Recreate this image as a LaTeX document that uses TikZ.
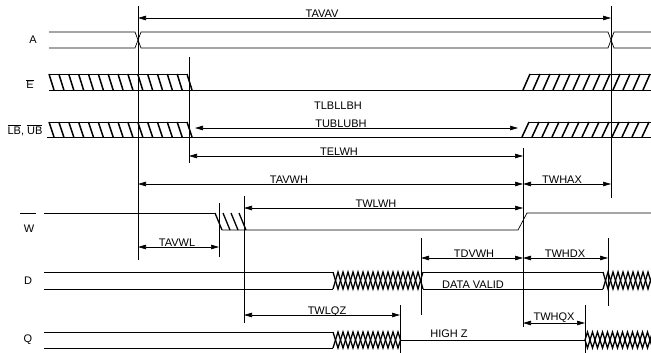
\documentclass[tikz,border=0pt]{standalone}
\usepackage{fontspec}
\setmainfont{Liberation Sans}
\usetikzlibrary{arrows.meta}
\newcommand{\barsig}[1]{$\overline{\mbox{#1}}$}

\begin{document}
\begin{tikzpicture}[x=1pt, y=-1pt, line width=0.7pt,
    font=\fontsize{11}{13}\selectfont,
    dimarrow/.style={{Triangle[length=8pt,width=4.5pt]}-{Triangle[length=8pt,width=4.5pt]}},
    hatch/.style={line width=1.5pt},
    xxx/.style={line width=1.3pt}]
  \useasboundingbox (0,0) rectangle (651,353);

  % signal names
  \node (lblA) at (33,40) {A};
  \node (lblE) at (30,84) {\barsig{E}};
  \node (lblLB) at (25,130) {\barsig{LB}, \barsig{UB}};
  \node (lblW) at (29,229) {W};
  \draw (20,213) -- (36,213);
  \node (lblD) at (28,281) {D};
  \node (lblQ) at (28,340) {Q};

  % A
  \draw (49,32) -- (135,32) -- (141,48) -- (608,48) -- (614,32) -- (651,32);
  \draw (49,48) -- (135,48) -- (141,32) -- (608,32) -- (614,48) -- (651,48);

  % E
  \draw (49,90) -- (651,90);
  \draw (49,74) -- (187,74);
  \foreach \k in {0,...,14}
    \draw[hatch] ({49+\k*9.857},74) -- ++(5,16);
  \draw (530,74) -- (651,74);
  \foreach \k in {0,...,12}
    \draw[hatch] ({523+\k*10},90) -- ++(7,-16);

  % LB, UB
  \draw (47,137) -- (651,137);
  \draw (49,122) -- (187,122);
  \foreach \k in {0,...,14}
    \draw[hatch] ({49+\k*9.857},122) -- ++(5,15);
  \draw (529,122) -- (651,122);
  \foreach \k in {0,...,12}
    \draw[hatch] ({522+\k*10},137) -- ++(7,-15);

  % W
  \draw (44,213) -- (215,213);
  \foreach \k in {0,...,3}
    \draw[hatch, line width=1.3pt] ({215+\k*8},213) -- ++(7,17);
  \draw (222,230) -- (518,230) -- (527,213) -- (651,213);

  % D
  \draw (44,272) -- (333,272);
  \draw (44,289) -- (333,289);
  \draw[xxx] (333,272) \foreach \k in {1,...,9} { -- ++(5,17) -- ++(5,-17) };
  \draw[xxx] (333,289) \foreach \k in {1,...,9} { -- ++(5,-17) -- ++(5,17) };
  \draw (423,272) -- (603,272);
  \draw (423,289) -- (603,289);
  \draw[xxx] (603,272) \foreach \k in {1,...,5} { -- ++(5,17) -- ++(5,-17) };
  \draw[xxx] (603,289) \foreach \k in {1,...,5} { -- ++(5,-17) -- ++(5,17) };

  % Q
  \draw (44,332) -- (333,332);
  \draw (44,348) -- (333,348);
  \draw[xxx] (333,332) \foreach \k in {1,...,6} { -- ++(5,16) -- ++(5,-16) } -- ++(5,16) -- ++(2.5,-8);
  \draw[xxx] (333,348) \foreach \k in {1,...,6} { -- ++(5,-16) -- ++(5,16) } -- ++(5,-16) -- ++(2.5,8);
  \draw (400.5,340) -- (585,340);
  \draw[xxx] (585,340) -- ++(2.5,-8) \foreach \k in {1,...,7} { -- ++(5,16) -- ++(5,-16) };
  \draw[xxx] (585,340) -- ++(2.5,8) \foreach \k in {1,...,7} { -- ++(5,-16) -- ++(5,16) };

  % edges
  \draw (138,6) -- (138,260);
  \draw (611,6) -- (611,198);
  \draw (189,57) -- (189,163);
  \draw (523,148) -- (523,327);
  \draw (219,203) -- (219,257);
  \draw (244,196) -- (244,323);
  \draw (421,238) -- (421,315);
  \draw (608,238) -- (608,306);
  \draw (400,305) -- (400,353);
  \draw (585,305) -- (585,353);

  % timings
  \draw[dimarrow] (138,18) -- (611,18);
  \draw[dimarrow] (195,128) -- (518,128);
  \draw[dimarrow] (189,156) -- (523,156);
  \draw[dimarrow] (138,184) -- (523,184);
  \draw[dimarrow] (523,184) -- (611,184);
  \draw[dimarrow] (244,208) -- (523,208);
  \draw[dimarrow] (138,247) -- (219,247);
  \draw[dimarrow] (421,258) -- (523,258);
  \draw[dimarrow] (523,258) -- (608,258);
  \draw[dimarrow] (244,315) -- (400,315);
  \draw[dimarrow] (523,323) -- (585,323);

  \node[anchor=base] (tavav) at (322,17.5) {TAVAV};
  \node[anchor=base] (tlbllbh) at (338,110) {TLBLLBH};
  \node[anchor=base] (tublubh) at (341,127.5) {TUBLUBH};
  \node[anchor=base] (telwh) at (339,155.5) {TELWH};
  \node[anchor=base] (tavwh) at (289,183.5) {TAVWH};
  \node[anchor=base] (twhax) at (562,183) {TWHAX};
  \node[anchor=base] (twlwh) at (376,207.5) {TWLWH};
  \node[anchor=base] (tavwl) at (177,246.5) {TAVWL};
  \node[anchor=base] (tdvwh) at (474,257.5) {TDVWH};
  \node[anchor=base] (twhdx) at (565,257.5) {TWHDX};
  \node[anchor=base] (datavalid) at (473,288) {DATA VALID};
  \node[anchor=base] (twlqz) at (327,314.5) {TWLQZ};
  \node[anchor=base] (twhqx) at (554,320) {TWHQX};
  \node[anchor=base] (highz) at (449,337) {HIGH Z};
\end{tikzpicture}
\end{document}
